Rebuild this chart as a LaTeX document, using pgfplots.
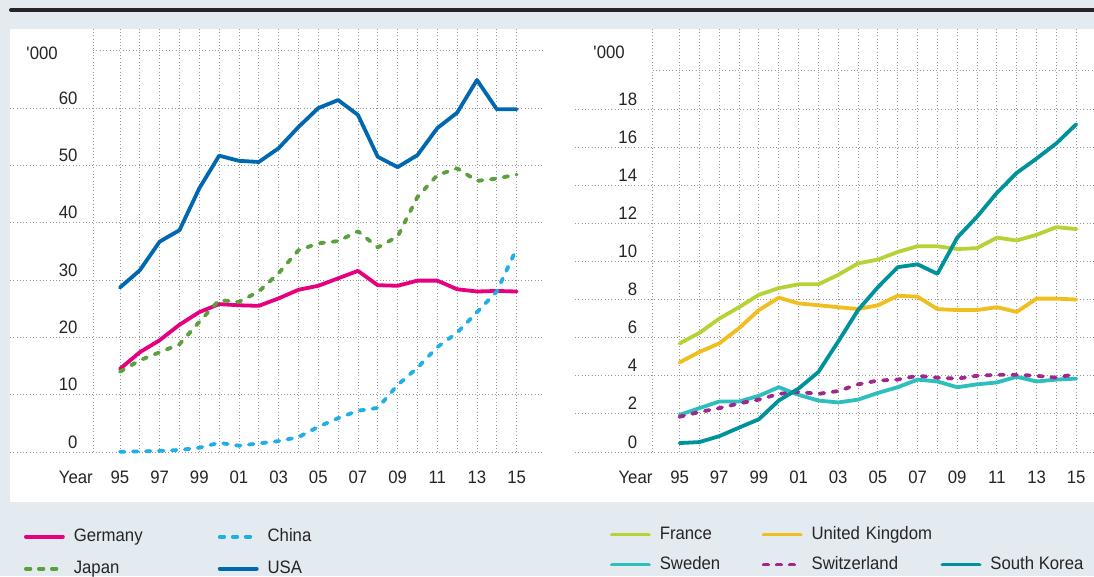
\documentclass[border=0pt]{standalone}
\usepackage{pgfplots}
\pgfplotsset{compat=1.18}
\usepackage{fontspec}
\setmainfont{Liberation Sans}[FakeStretch=0.93]

\definecolor{bg}{RGB}{227,235,240}
\definecolor{ink}{RGB}{38,36,37}
\definecolor{dots}{RGB}{150,150,150}
\definecolor{cGermany}{RGB}{230,0,126}
\definecolor{cJapan}{RGB}{90,160,60}
\definecolor{cChina}{RGB}{30,175,232}
\definecolor{cUSA}{RGB}{0,103,177}
\definecolor{cFrance}{RGB}{183,210,54}
\definecolor{cUK}{RGB}{240,190,30}
\definecolor{cSweden}{RGB}{45,190,190}
\definecolor{cSwiss}{RGB}{160,40,140}
\definecolor{cKorea}{RGB}{0,146,154}

\newcommand{\chartfont}{\fontsize{18pt}{21pt}\selectfont}
\newcommand{\gap}{\hspace*{9pt}}

\tikzset{
  gridline/.style={dots, line width=0.9pt, dash pattern=on 0.9pt off 2.4pt},
  dashy/.style={dash pattern=on 4.5pt off 8.5pt},
}

\pgfplotsset{
  /pgf/number format/assume math mode=true,
  panel/.style={
    scale only axis, width=450pt, height=423pt, anchor=south west,
    xmin=1993.64, xmax=2016.33, ymin=0,
    axis line style={draw=none}, major tick length=0pt,
    xtick={1995,1997,1999,2001,2003,2005,2007,2009,2011,2013,2015},
    xticklabels={95,97,99,01,03,05,07,09,11,13,15},
    xticklabel style={anchor=base, inner sep=0pt, yshift=-31.7pt},
    yticklabel style={anchor=base east, inner sep=0pt, xshift=-15.3pt, yshift=4pt},
    tick label style={font=\chartfont, text=ink},
    clip=false,
    every axis plot/.append style={line width=3.8pt, line join=round, line cap=round},
    legend cell align=left,
    legend image code/.code={
      \draw[##1] (0pt,0pt) -- (37pt,0pt);
    },
    legend style={draw=none, fill=none, inner sep=0pt, outer sep=0pt,
      anchor=north west, row sep=15pt, column sep=0pt,
      nodes={inner sep=0pt, text height=13pt, text depth=4pt, font=\chartfont, text=ink}},
  },
}

\begin{document}
\begin{tikzpicture}[font=\chartfont]
% page background, white panel and top rule
\fill[bg] (0pt,0pt) rectangle (1094pt,576pt);
\fill[white] (10pt,74pt) rectangle (1094pt,547pt);
\draw[ink, line width=4pt, line cap=round] (11pt,566pt) -- (1110pt,566pt);

% ---------------- left panel: Germany, China, Japan, USA ----------------
\begin{axis}[panel, at={(93pt,124pt)}, ymax=73.8,
  ytick={0,10,20,30,40,50,60},
  legend columns=2,
  legend style={at={(axis description cs:-0.1533,-0.18)}},
]
\pgfplotsinvokeforeach{1993.64,1995,1996,1997,1998,1999,2000,2001,2002,2003,2004,2005,2006,2007,2008,2009,2010,2011,2012,2013,2014,2015}{
  \draw[gridline] (axis cs:#1,0) -- (axis cs:#1,73.8);
}
\pgfplotsinvokeforeach{0,10,20,30,40,50,60}{
  \draw[gridline] (axis cs:1989.45,#1) -- (axis cs:2016.33,#1);
}
\draw[gridline] (axis cs:1993.64,70) -- (axis cs:2016.33,70);
\node[anchor=base east, inner sep=0pt, text=ink] at (axis cs:1993.64,0) [yshift=-31.7pt] {Year};
\node[anchor=base east, inner sep=0pt, text=ink, xshift=-35pt, yshift=392.5pt] at (rel axis cs:0,0) {\textquotesingle000};

\addplot[cGermany] coordinates {
 (1995,14.5) (1996,17.4) (1997,19.5) (1998,22.2) (1999,24.4) (2000,25.8) (2001,25.6)
 (2002,25.5) (2003,26.8) (2004,28.3) (2005,29.0) (2006,30.3) (2007,31.6) (2008,29.1)
 (2009,29.0) (2010,29.9) (2011,29.9) (2012,28.4) (2013,28.0) (2014,28.1) (2015,28.0)};
\addlegendentry[text width=153pt]{\gap Germany}
\addplot[cChina, dashy] coordinates {
 (1995,0.05) (1996,0.1) (1997,0.2) (1998,0.35) (1999,0.75) (2000,1.6) (2001,1.1)
 (2002,1.5) (2003,1.9) (2004,2.6) (2005,4.4) (2006,5.9) (2007,7.2) (2008,7.7)
 (2009,11.7) (2010,14.7) (2011,18.3) (2012,20.8) (2013,24.4) (2014,28.0) (2015,35.5)};
\addlegendentry{\gap China}
\addplot[cJapan, dashy] coordinates {
 (1995,14.0) (1996,16.0) (1997,17.4) (1998,18.8) (1999,22.7) (2000,26.5) (2001,26.2)
 (2002,28.0) (2003,31.2) (2004,35.2) (2005,36.4) (2006,36.8) (2007,38.5) (2008,35.7)
 (2009,37.6) (2010,44.5) (2011,48.3) (2012,49.5) (2013,47.3) (2014,47.7) (2015,48.4)};
\addlegendentry[text width=153pt]{\gap Japan}
\addplot[cUSA] coordinates {
 (1995,28.7) (1996,31.7) (1997,36.7) (1998,38.7) (1999,46.0) (2000,51.7) (2001,50.8)
 (2002,50.6) (2003,53.0) (2004,56.7) (2005,60.0) (2006,61.4) (2007,58.8) (2008,51.5)
 (2009,49.7) (2010,51.8) (2011,56.5) (2012,59.2) (2013,64.9) (2014,59.8) (2015,59.8)};
\addlegendentry{\gap USA}
\end{axis}

% ---------------- right panel: France, UK, Sweden, Switzerland, South Korea ----------------
\begin{axis}[panel, at={(652.6pt,124pt)}, ymax=22.2,
  ytick={0,2,4,6,8,10,12,14,16,18},
  legend columns=3,
  legend style={at={(axis description cs:-0.0947,-0.175)}, row sep=13pt},
]
\pgfplotsinvokeforeach{1993.64,1995,1996,1997,1998,1999,2000,2001,2002,2003,2004,2005,2006,2007,2008,2009,2010,2011,2012,2013,2014,2015}{
  \draw[gridline] (axis cs:#1,0) -- (axis cs:#1,22.2);
}
\pgfplotsinvokeforeach{0,2,4,6,8,10,12,14,16,18}{
  \draw[gridline] (axis cs:1989.73,#1) -- (axis cs:2016.33,#1);
}
\draw[gridline] (axis cs:1993.64,20) -- (axis cs:2016.33,20);
\node[anchor=base east, inner sep=0pt, text=ink] at (axis cs:1993.64,0) [yshift=-31.7pt] {Year};
\node[anchor=base east, inner sep=0pt, text=ink, xshift=-27.6pt, yshift=393.8pt] at (rel axis cs:0,0) {\textquotesingle000};

\addplot[cFrance] coordinates {
 (1995,5.7) (1996,6.25) (1997,7.0) (1998,7.6) (1999,8.25) (2000,8.6) (2001,8.8)
 (2002,8.8) (2003,9.3) (2004,9.9) (2005,10.1) (2006,10.5) (2007,10.8) (2008,10.8)
 (2009,10.65) (2010,10.7) (2011,11.25) (2012,11.1) (2013,11.4) (2014,11.8) (2015,11.7)};
\addlegendentry[text width=111pt]{\gap France}
\addplot[cUK] coordinates {
 (1995,4.7) (1996,5.25) (1997,5.7) (1998,6.5) (1999,7.45) (2000,8.1) (2001,7.8)
 (2002,7.7) (2003,7.6) (2004,7.5) (2005,7.7) (2006,8.2) (2007,8.15) (2008,7.5)
 (2009,7.45) (2010,7.45) (2011,7.6) (2012,7.35) (2013,8.05) (2014,8.05) (2015,8.0)};
\addlegendentry[text width=138pt]{\gap United Kingdom}
\addlegendimage{empty legend}
\addlegendentry{}
\addplot[cSweden] coordinates {
 (1995,1.95) (1996,2.3) (1997,2.65) (1998,2.65) (1999,2.95) (2000,3.4) (2001,3.0)
 (2002,2.7) (2003,2.6) (2004,2.75) (2005,3.1) (2006,3.4) (2007,3.8) (2008,3.7)
 (2009,3.4) (2010,3.55) (2011,3.65) (2012,3.95) (2013,3.7) (2014,3.8) (2015,3.85)};
\addlegendentry[text width=111pt]{\gap Sweden}
\addplot[cSwiss, dashy] coordinates {
 (1995,1.85) (1996,2.1) (1997,2.3) (1998,2.55) (1999,2.75) (2000,3.05) (2001,3.15)
 (2002,3.05) (2003,3.2) (2004,3.55) (2005,3.75) (2006,3.8) (2007,4.0) (2008,3.9)
 (2009,3.85) (2010,4.0) (2011,4.05) (2012,4.05) (2013,4.0) (2014,3.9) (2015,4.1)};
\addlegendentry[text width=138pt]{\gap Switzerland}
\addplot[cKorea] coordinates {
 (1995,0.47) (1996,0.52) (1997,0.83) (1998,1.28) (1999,1.72) (2000,2.7) (2001,3.33)
 (2002,4.2) (2003,5.8) (2004,7.45) (2005,8.65) (2006,9.7) (2007,9.85) (2008,9.35)
 (2009,11.25) (2010,12.35) (2011,13.6) (2012,14.65) (2013,15.4) (2014,16.2) (2015,17.2)};
\addlegendentry{\gap South Korea}
\end{axis}

\pgfresetboundingbox
\useasboundingbox (0pt,0pt) rectangle (1094pt,576pt);
\end{tikzpicture}
\end{document}
